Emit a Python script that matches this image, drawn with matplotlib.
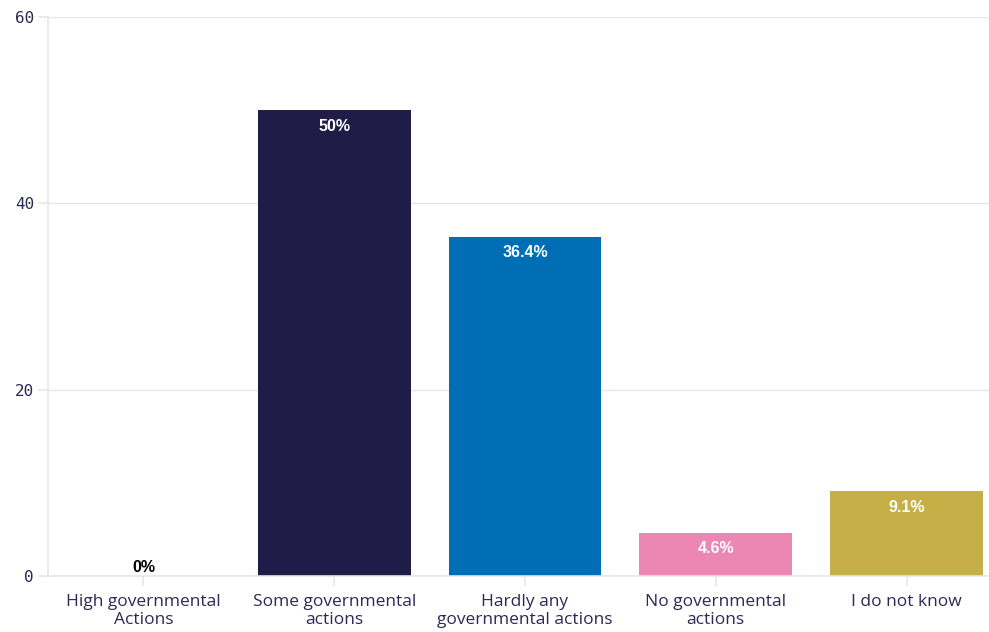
import matplotlib
matplotlib.use("Agg")
from matplotlib import pyplot as plt

categories = ["High governmental\nActions", "Some governmental\nactions",
              "Hardly any\ngovernmental actions", "No governmental\nactions",
              "I do not know"]
shares = [0, 50, 36.4, 4.6, 9.1]
share_labels = ["0%", "50%", "36.4%", "4.6%", "9.1%"]
colors = ["#1F1C47", "#1F1C47", "#006EB5", "#EB87B2", "#C6AF46"]
y_ticks = [0, 20, 40, 60]

text_color = "#2B2A55"
grid_color = "#E6E6E6"

fig = plt.figure(figsize=(9.89, 6.32), dpi=100)
# axes runs past the right edge of the figure on purpose
ax = fig.add_axes([48 / 989, 56 / 632, 954 / 989, 559 / 632])

x = range(len(categories))
bars = ax.bar(x, shares, width=0.8, color=colors, zorder=2)

for bar, val, lab in zip(bars, shares, share_labels):
    cx = bar.get_x() + bar.get_width() / 2
    if val > 3:
        ax.annotate(lab, (cx, val), xytext=(0, -6), textcoords="offset points",
                    ha="center", va="top", color="white", fontsize=11.5,
                    fontweight="bold", family="Liberation Sans")
    else:
        ax.annotate(lab, (cx, val), xytext=(0, 1), textcoords="offset points",
                    ha="center", va="bottom", color="black", fontsize=11.5,
                    fontweight="bold", family="Liberation Sans")

ax.set_xlim(-0.5, len(categories) - 0.5)
ax.set_ylim(0, 60)
ax.set_xticks(list(x))
ax.set_xticklabels(categories, fontsize=12.5, color=text_color,
                   family="Open Sans", linespacing=1.2)
ax.set_yticks(y_ticks)
ax.set_yticklabels([str(t) for t in y_ticks], fontsize=11.5, color=text_color,
                   family="DejaVu Sans Mono")

ax.tick_params(axis="both", color=grid_color, length=7, width=1.2)
ax.tick_params(axis="x", pad=6)
ax.tick_params(axis="y", pad=3)

ax.grid(axis="y", color=grid_color, linewidth=1, zorder=0)
ax.set_axisbelow(True)
for side in ["top", "right"]:
    ax.spines[side].set_visible(False)
ax.spines["left"].set_color(grid_color)
ax.spines["left"].set_linewidth(1.2)
ax.spines["bottom"].set_color(grid_color)
ax.spines["bottom"].set_linewidth(1.2)

fig.savefig("out.png", dpi=100)
